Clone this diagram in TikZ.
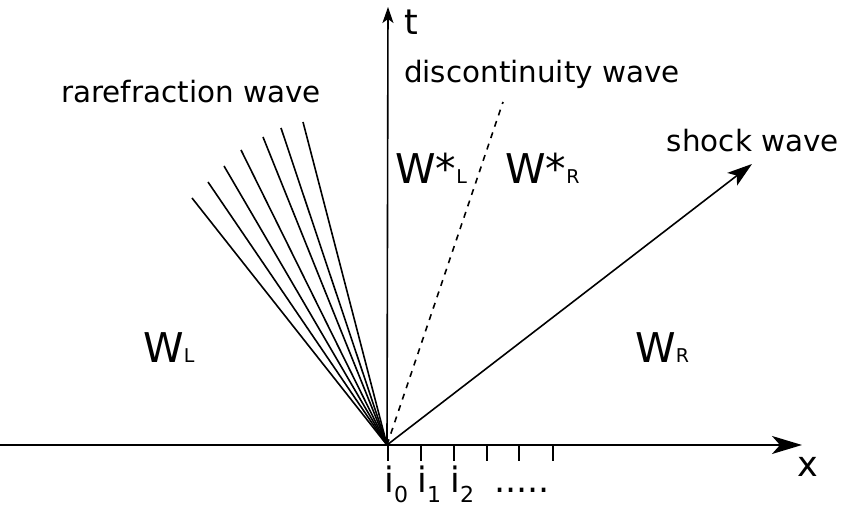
\documentclass[tikz,border=0pt]{standalone}
\usepackage{fontspec}
\setmainfont{DejaVu Sans}
\usetikzlibrary{arrows.meta}
\newcommand{\wsub}[1]{{\fontsize{9.5}{10}\selectfont #1}}
\newcommand{\isub}[1]{\raisebox{-5pt}{\fontsize{11}{12}\selectfont #1}}
\begin{document}
\begin{tikzpicture}[x=0.5pt, y=-0.5pt,
    lbl/.style={font=\fontsize{14.7}{17}\selectfont, inner sep=0pt},
    st/.style={font=\fontsize{20.5}{24}\selectfont, inner sep=0pt},
    big/.style={font=\fontsize{17.5}{20}\selectfont, inner sep=0pt},
    ln/.style={line width=0.8pt},
    ax/.style={ln, -{Stealth[length=15pt, width=9pt, inset=4pt]}}]
  \useasboundingbox (0,0) rectangle (843,507);
  \coordinate (O) at (387,445);
  \coordinate (xend) at (802,445);
  \coordinate (tend) at (388,7);
  % axes
  \draw[ax] (0,445) -- (xend);
  \draw[ln, -{Stealth[length=8pt, width=5.5pt, inset=2pt]}] (O) -- (tend);
  \node[big] (tlbl) at (411,22) {t};
  \node[big] (xlbl) at (808,467) {x};
  % grid points
  \foreach \p in {388,421,454,487,519,553}
    \draw[ln] (\p,445) -- (\p,461);
  \foreach \p [count=\i from 0] in {388,421,454}
    \node[big, anchor=base west] (i\i) at (\p-4,493) {i\isub{\i}};
  \node[big, anchor=base] (dots) at (522,493) {.....};
  % rarefraction fan
  \foreach \xe/\ye [count=\i] in {192/198, 208/182, 224/166, 241/150, 263/137, 281/128, 303/122}
    \draw[ln] (O) -- (\xe,\ye) coordinate (r\i);
  \coordinate (dtop) at (503,102);
  \draw[ln, dashed] (O) -- (dtop);
  \coordinate (stop) at (752,164);
  \draw[ln, -{Stealth[length=12.5pt, width=8pt, inset=3pt]}] (O) -- (stop);
  % labels
  \node[lbl] (rare) at (191,92) {rarefraction wave};
  \node[lbl] (disc) at (542,74) {discontinuity wave};
  \node[lbl] (shock) at (753,141) {shock wave};
  \node[st, anchor=base west] (wsl) at (395,184) {W*\wsub{L}};
  \node[st, anchor=base west] (wsr) at (505,184) {W*\wsub{R}};
  \node[st, anchor=base west] (wl) at (143,363) {W\wsub{L}};
  \node[st, anchor=base west] (wr) at (635,363) {W\wsub{R}};
\end{tikzpicture}
\end{document}
